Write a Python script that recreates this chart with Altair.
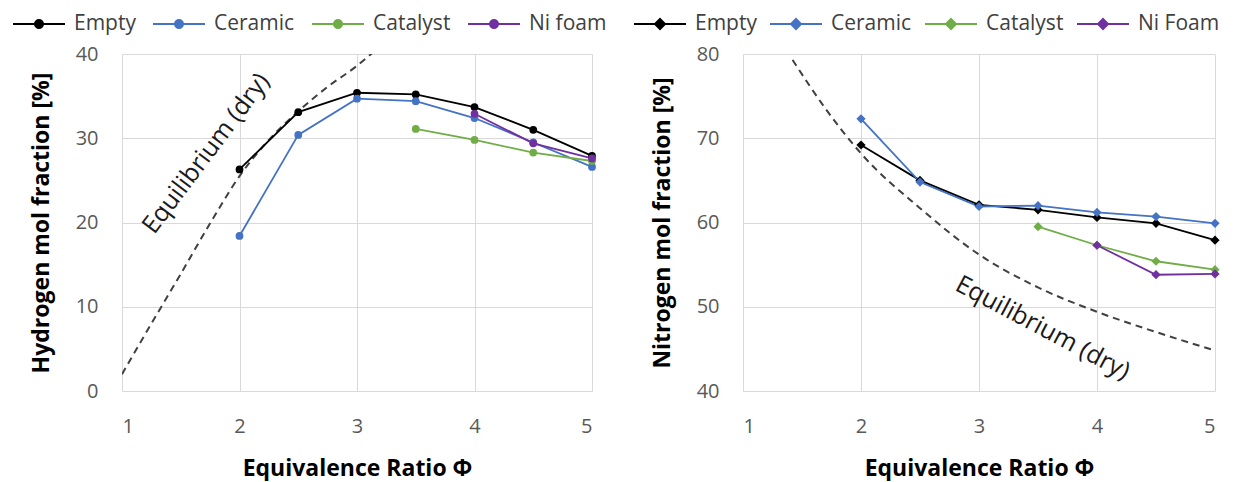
import math
import altair as alt
import pandas as pd

# ---------------- data ----------------
SERIES_H2 = ["Empty", "Ceramic", "Catalyst", "Ni foam"]
SERIES_N2 = ["Empty", "Ceramic", "Catalyst", "Ni Foam"]
COLORS = ["#000000", "#4472C4", "#70AD47", "#7030A0"]

PHI_FULL = [2.0, 2.5, 3.0, 3.5, 4.0, 4.5, 5.0]
PHI_CAT = [3.5, 4.0, 4.5, 5.0]
PHI_NI = [4.0, 4.5, 5.0]

h2_empty = [26.3, 33.1, 35.4, 35.2, 33.7, 31.0, 27.9]
h2_ceramic = [18.4, 30.4, 34.7, 34.4, 32.4, 29.5, 26.6]
h2_catalyst = [31.1, 29.8, 28.3, 27.3]
h2_nifoam = [32.9, 29.4, 27.6]

n2_empty = [69.2, 65.0, 62.1, 61.5, 60.6, 59.9, 57.9]
n2_ceramic = [72.3, 64.8, 61.9, 62.0, 61.2, 60.7, 59.9]
n2_catalyst = [59.5, 57.3, 55.4, 54.4]
n2_nifoam = [57.3, 53.8, 53.9]

eq_h2_phi = [1.0, 1.25, 1.5, 1.75, 2.0, 2.25, 2.5, 2.75, 3.0, 3.25]
eq_h2 = [2.0, 8.0, 13.9, 19.9, 25.5, 29.8, 33.2, 36.1, 38.6, 41.6]
eq_n2_phi = [1.42, 1.7, 2.0, 2.5, 3.0, 3.5, 4.0, 4.5, 5.0]
eq_n2 = [79.3, 73.5, 68.2, 61.7, 56.2, 52.3, 49.4, 47.0, 44.8]

ANN_TEXT = "Equilibrium (dry)"
ann_h2 = {"phi": 1.715, "v": 28.2}
ann_n2 = {"phi": 3.54, "v": 47.5}

X_TICKS = [1, 2, 3, 4, 5]
Y_TICKS_H2 = [0, 10, 20, 30, 40]
Y_TICKS_N2 = [40, 50, 60, 70, 80]


def long_df(names, phis, vals):
    rows = []
    for n, p, v in zip(names, phis, vals):
        for a, b in zip(p, v):
            rows.append({"series": n, "phi": a, "v": b})
    return pd.DataFrame(rows)


df_h2 = long_df(SERIES_H2, [PHI_FULL, PHI_FULL, PHI_CAT, PHI_NI],
                [h2_empty, h2_ceramic, h2_catalyst, h2_nifoam])
df_n2 = long_df(SERIES_N2, [PHI_FULL, PHI_FULL, PHI_CAT, PHI_NI],
                [n2_empty, n2_ceramic, n2_catalyst, n2_nifoam])
eq_h2_df = pd.DataFrame({"phi": eq_h2_phi, "v": eq_h2})
eq_n2_df = pd.DataFrame({"phi": eq_n2_phi, "v": eq_n2})

# ---------------- styles ----------------
FONT = "Open Sans"
LEG_W = 52  # legend symbol (line) length in px


def circle_path(r, n=16):
    pts = [(r * math.cos(2 * math.pi * k / n), r * math.sin(2 * math.pi * k / n)) for k in range(n)]
    return "M" + "L".join(f"{x:.3f},{y:.3f}" for x, y in pts) + "Z"


def diamond_path(r):
    return f"M0,{-r}L{r},0L0,{r}L{-r},0Z"


LEG_CIRCLE = "M-1,0L1,0" + circle_path(4.0 / (LEG_W / 2))
LEG_DIAMOND = "M-1,0L1,0" + diamond_path(5.0 / (LEG_W / 2))


def make_legend(path, colpad):
    return alt.Legend(
        orient="none", legendX=-110, legendY=-45, direction="horizontal",
        title=None, symbolType=path, symbolSize=LEG_W * LEG_W, symbolStrokeWidth=2,
        symbolOpacity=1, labelFont=FONT, labelFontSize=21, labelColor="#404040",
        labelOffset=8, columnPadding=colpad, padding=0, clipHeight=30,
    )


def panel(df, eq_df, names, ytitle, ydom, yticks, shape, size, leg_path, colpad, ann, angle, width):
    xs = alt.Scale(domain=[1, 5], nice=False)
    ys = alt.Scale(domain=ydom, nice=False)
    xax = alt.Axis(values=X_TICKS, title="Equivalence Ratio Φ", format="d",
                   labelPadding=25, titlePadding=21)
    yax = alt.Axis(values=yticks, title=ytitle, labelPadding=24, titlePadding=22)
    cscale = alt.Scale(domain=names, range=COLORS)
    eq = alt.Chart(eq_df).mark_line(
        strokeDash=[7, 5], color="#404040", strokeWidth=2, clip=True,
        interpolate="monotone",
    ).encode(
        x=alt.X("phi:Q", scale=xs, axis=xax),
        y=alt.Y("v:Q", scale=ys, axis=yax),
    )
    lines = alt.Chart(df).mark_line(strokeWidth=1.8).encode(
        x=alt.X("phi:Q", scale=xs),
        y=alt.Y("v:Q", scale=ys),
        stroke=alt.Stroke("series:N", scale=cscale, legend=make_legend(leg_path, colpad)),
    )
    pts = alt.Chart(df).mark_point(filled=True, shape=shape, size=size, opacity=1).encode(
        x=alt.X("phi:Q", scale=xs),
        y=alt.Y("v:Q", scale=ys),
        fill=alt.Fill("series:N", scale=cscale, legend=make_legend(leg_path, colpad)),
    )
    txt = alt.Chart(pd.DataFrame([{**ann, "t": ANN_TEXT}])).mark_text(
        font=FONT, fontSize=25, color="#1a1a1a", angle=angle,
        align="center", baseline="middle",
    ).encode(x=alt.X("phi:Q", scale=xs), y=alt.Y("v:Q", scale=ys), text="t:N")
    return alt.layer(eq, lines, pts, txt).properties(width=width, height=337)


left = panel(df_h2, eq_h2_df, SERIES_H2, "Hydrogen mol fraction [%]", [0, 40], Y_TICKS_H2,
             "circle", 60, LEG_CIRCLE, 16, ann_h2, 307, 470)
right = panel(df_n2, eq_n2_df, SERIES_N2, "Nitrogen mol fraction [%]", [40, 80], Y_TICKS_N2,
              "diamond", 85, LEG_DIAMOND, 12, ann_n2, 28, 472)

chart = alt.hconcat(left, right, spacing=24).resolve_scale(
    fill="independent", stroke="independent", x="independent", y="independent"
).resolve_legend(fill="independent", stroke="independent").properties(
    padding={"left": 3, "top": 0, "right": 0, "bottom": 0},
    background="white",
).configure_view(stroke="transparent").configure_axis(
    grid=True, gridColor="#d9d9d9", gridWidth=1, domain=False, ticks=False,
    labelFont=FONT, labelFontSize=20, labelColor="#595959",
    titleFont=FONT, titleFontSize=23, titleFontWeight="bold", titleColor="#000000",
)

chart.save("out.html", embed_options={"renderer": "svg", "actions": False})
